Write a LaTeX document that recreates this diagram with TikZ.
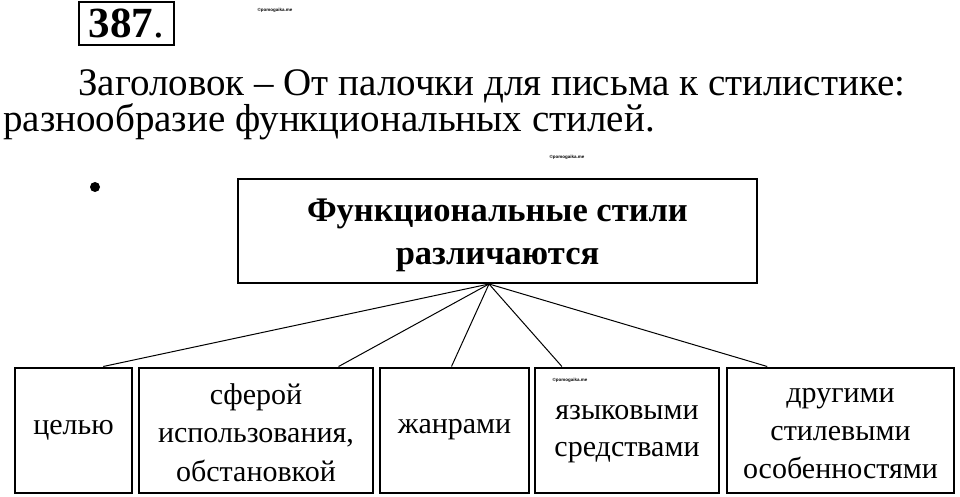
\documentclass[tikz,border=0pt]{standalone}
\usepackage{fontspec}
\setmainfont{Liberation Serif}
\setsansfont{Liberation Sans}
\usetikzlibrary{calc}
\newcommand{\lowerby}[2]{\raisebox{-#1}[\height][\depth]{#2}}

\begin{document}
\begin{tikzpicture}[x=1pt,y=-1pt,
        box/.style={draw,line width=2pt,inner sep=0pt,align=center},
        leaf/.style={box,minimum height=125pt,font=\fontsize{30}{38}\selectfont},
        wmark/.style={font=\sffamily\bfseries\fontsize{4.5}{5}\selectfont}]
            \useasboundingbox (0,0) rectangle (960,497);
            \node[box,line width=2.5pt,minimum width=95pt,minimum height=43pt,
                font=\fontsize{43}{46}\selectfont] (num) at (126.5,23.5) {\textbf{387}.};
            \node[wmark] (wm1) at (275,10) {©pomogaika.me};
            \node[anchor=base west,inner sep=0pt,font=\fontsize{39}{44}\selectfont] (line1) at (78,96)
                {Заголовок – От палочки для письма к стилистике:};
            \node[anchor=base west,inner sep=0pt,font=\fontsize{39}{44}\selectfont] (line2) at (3,132)
                {разнообразие функциональных стилей.};
            \node[wmark] (wm2) at (567,157) {©pomogaika.me};
            \fill (95,187) circle (5pt);

            \node[box,minimum width=519pt,minimum height=104pt,
                font=\bfseries\fontsize{34.5}{41}\selectfont] (title) at (497.5,231)
                {\lowerby{3pt}{Функциональные стили}\\\lowerby{5pt}{различаются}};
            \coordinate (apex) at ($(title.south)+(-8.5,0)$);

            \node[leaf,minimum width=117pt] (goal) at (73.5,430) {целью};
            \node[leaf,minimum width=234pt] (sphere) at (256,430)
                {\lowerby{2pt}{сферой}\\\lowerby{2pt}{использования,}\\\lowerby{3pt}{обстановкой}};
            \node[leaf,minimum width=149pt] (genre) at (454.5,430) {\raisebox{5pt}{жанрами}};
            \node[leaf,minimum width=184pt] (means) at (627,430)
                {\lowerby{5pt}{языковыми}\\\lowerby{4pt}{средствами}};
            \node[leaf,minimum width=227pt] (other) at (840.5,430)
                {\lowerby{4pt}{другими}\\\lowerby{4pt}{стилевыми}\\\lowerby{4pt}{особенностями}};
            \node[wmark] (wm3) at (570,380) {©pomogaika.me};

            \foreach \n/\f in {goal/0.75,sphere/0.85,genre/0.48,means/0.15,other/0.18} {
                \draw[line width=1pt] (apex) -- ($(\n.north west)!\f!(\n.north east)$);
            }
        \end{tikzpicture}
\end{document}
